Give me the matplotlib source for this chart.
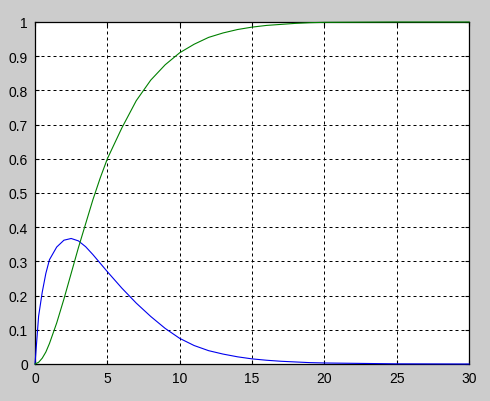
import matplotlib
matplotlib.use('Agg')
import matplotlib.pyplot as plt

# sample points
t = [0, 0.25, 0.5, 0.75, 1, 1.5, 2, 2.5, 3, 3.5, 4, 4.5, 5, 6, 7, 8, 9, 10,
     11, 12, 13, 14, 15, 16, 17, 18, 19, 20, 25, 30]
blue = [0, 0.14, 0.21, 0.265, 0.305, 0.342, 0.362, 0.367, 0.36, 0.343, 0.32,
        0.295, 0.27, 0.222, 0.178, 0.139, 0.104, 0.075, 0.054, 0.039, 0.029,
        0.021, 0.015, 0.011, 0.008, 0.006, 0.004, 0.003, 0.0005, 0]
green = [0, 0.005, 0.017, 0.035, 0.06, 0.12, 0.19, 0.265, 0.34, 0.41, 0.48,
         0.543, 0.6, 0.69, 0.77, 0.83, 0.875, 0.91, 0.935, 0.955, 0.968,
         0.978, 0.985, 0.99, 0.993, 0.996, 0.998, 0.999, 1, 1]

xticks = [0, 5, 10, 15, 20, 25, 30]
yticks = [0, 0.1, 0.2, 0.3, 0.4, 0.5, 0.6, 0.7, 0.8, 0.9, 1]
ylabels = ['0', '0.1', '0.2', '0.3', '0.4', '0.5', '0.6', '0.7', '0.8', '0.9', '1']

plt.rcParams['font.family'] = ['Liberation Sans', 'DejaVu Sans']

fig = plt.figure(figsize=(4.9, 4.02), dpi=100, facecolor='#cccccc')
ax = fig.add_axes([35 / 490, 37 / 402, 434 / 490, 342 / 402])
ax.set_facecolor('white')

ax.plot(t, blue, color='#0000ee', lw=0.8, zorder=3, clip_on=False)
ax.plot(t, green, color='#008000', lw=0.8, zorder=3, clip_on=False)

ax.set_xlim(0, 30)
ax.set_ylim(0, 1)
ax.set_xticks(xticks)
ax.set_xticklabels([str(x) for x in xticks])
ax.set_yticks(yticks)
ax.set_yticklabels(ylabels)
ax.tick_params(direction='in', length=3, width=0.8, labelsize=10, pad=5,
               top=True, right=True)
ax.grid(True, color='black', lw=0.72, linestyle=(0, (3, 3)))
for s in ax.spines.values():
    s.set_linewidth(0.9)

fig.savefig('out.png', dpi=100, facecolor=fig.get_facecolor())
